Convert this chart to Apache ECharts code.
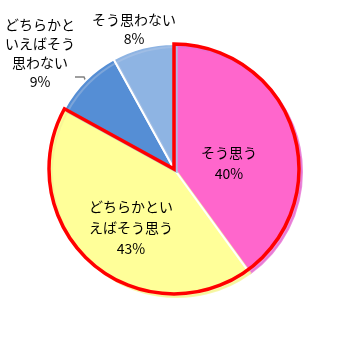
<!DOCTYPE html>
<html>
<head>
<meta charset="utf-8">
<script src="https://cdn.jsdelivr.net/npm/echarts@6/dist/echarts.min.js"></script>
<style>
html,body{margin:0;padding:0;background:#fff;}
#c{width:349px;height:349px;}
</style>
</head>
<body>
<div id="c"></div>
<script>
var categories = ['そう思う', 'どちらかといえばそう思う', 'どちらかといえばそう思わない', 'そう思わない'];
var labelTexts = ['そう思う', 'どちらかとい\nえばそう思う', 'どちらかと\nいえばそう\n思わない', 'そう思わない'];
var values = [40, 43, 9, 8];
var colors = ['#FF66CC', '#FFFF99', '#558ED5', '#8EB4E3'];
var shadowColors = ['rgba(230,110,210,0.8)', 'rgba(245,245,150,0.8)', 'rgba(150,180,220,0.6)', 'rgba(170,195,230,0.6)'];
var highlightGroup = [values[0] + values[1], values[2] + values[3]];

// label placement (layout, not data)
var labelPos = [[229, 163, 'middle'], [131, 228, 'middle'], [40, 15, 'top'], [134, 29.5, 'middle']];
var labelLH = [21, 21, 19, 19];
var labelPad = [[0, 0, 0, 0], [0, 0, 0, 0], [0, 0, 48, 0], [0, 0, 0, 0]];

var chart = echarts.init(document.getElementById('c'), null, {renderer: 'canvas'});
var CENTER = [174, 169], R = 125;
var mainData = values.map(function (v, i) {
  return {
    name: categories[i],
    value: v,
    itemStyle: {
      color: colors[i],
      borderColor: '#fff',
      borderWidth: 2,
      shadowColor: shadowColors[i],
      shadowOffsetX: 3,
      shadowOffsetY: 3,
      shadowBlur: 0
    },
    label: {lineHeight: labelLH[i], padding: labelPad[i]},
    labelLine: {show: i === 2}
  };
});
chart.setOption({
  animation: false,
  series: [{
    type: 'pie',
    center: CENTER,
    radius: R,
    startAngle: 90,
    clockwise: true,
    avoidLabelOverlap: false,
    data: mainData,
    label: {
      show: true,
      formatter: function (p) { return labelTexts[p.dataIndex] + '\n' + p.value + '%'; },
      fontFamily: '"Noto Sans CJK JP", sans-serif',
      fontSize: 14,
      color: '#000',
      align: 'center'
    },
    labelLine: {
      show: true,
      length: 4,
      length2: 9,
      lineStyle: {color: '#808080', width: 1.5}
    },
    labelLayout: function (p) {
      var q = labelPos[p.dataIndex];
      return {x: q[0], y: q[1], align: 'center', verticalAlign: q[2]};
    },
    emphasis: {disabled: true}
  }, {
    type: 'pie',
    center: CENTER,
    radius: R,
    startAngle: 90,
    clockwise: true,
    silent: true,
    label: {show: false},
    labelLine: {show: false},
    emphasis: {disabled: true},
    data: [
      {value: highlightGroup[0], itemStyle: {color: 'rgba(0,0,0,0)', borderColor: '#FF0000', borderWidth: 3.5, borderJoin: 'miter'}},
      {value: highlightGroup[1], itemStyle: {color: 'rgba(0,0,0,0)', borderWidth: 0}}
    ]
  }]
});
</script>
</body>
</html>
